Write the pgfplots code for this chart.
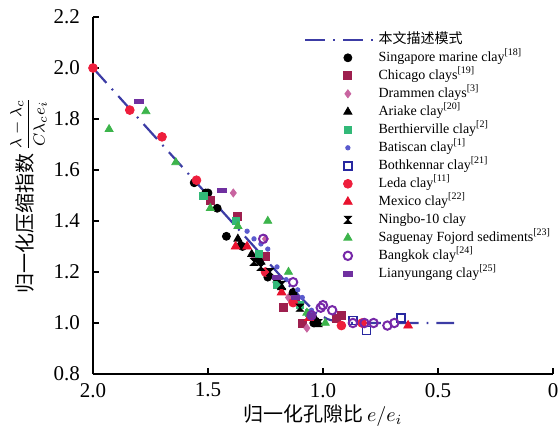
\documentclass[border=0pt]{standalone}
\usepackage{pgfplots}
\pgfplotsset{compat=1.18}
\usepackage{fontspec}
\setmainfont{Liberation Serif}
\newfontfamily\cjk{Noto Sans CJK SC}
\definecolor{modelc}{RGB}{60,60,165}
\definecolor{chic}{RGB}{158,31,78}
\definecolor{dram}{RGB}{200,100,160}
\definecolor{berth}{RGB}{50,185,120}
\definecolor{batis}{RGB}{90,90,205}
\definecolor{both}{RGB}{40,40,160}
\definecolor{leda}{RGB}{238,30,60}
\definecolor{mex}{RGB}{232,17,45}
\definecolor{sag}{RGB}{60,180,75}
\definecolor{bang}{RGB}{118,40,168}
\definecolor{lian}{RGB}{112,48,160}
\pgfdeclareplotmark{bowtie}{%
  \pgfpathmoveto{\pgfqpoint{-\pgfplotmarksize}{\pgfplotmarksize}}%
  \pgfpathlineto{\pgfqpoint{\pgfplotmarksize}{\pgfplotmarksize}}%
  \pgfpathlineto{\pgfqpoint{-\pgfplotmarksize}{-\pgfplotmarksize}}%
  \pgfpathlineto{\pgfqpoint{\pgfplotmarksize}{-\pgfplotmarksize}}%
  \pgfpathclose\pgfusepathqfillstroke}
\pgfdeclareplotmark{hbar}{%
  \pgfpathrectangle{\pgfqpoint{-1.2\pgfplotmarksize}{-0.6\pgfplotmarksize}}{\pgfqpoint{2.4\pgfplotmarksize}{1.2\pgfplotmarksize}}%
  \pgfusepathqfillstroke}
\begin{document}
\begin{tikzpicture}
\begin{axis}[
  scale only axis, width=230pt, height=178.5pt,
  x dir=reverse, xmin=0, xmax=2, ymin=0.8, ymax=2.2,
  axis x line=bottom, axis y line=left,
  axis line style={-, line width=0.8pt},
  every tick/.style={black, line width=0.8pt},
  tick align=inside, major tick length=3pt,
  xtick={0,0.5,1,1.5,2}, xticklabels={0,0.5,1.0,1.5,2.0},
  ytick={0.8,1.0,1.2,1.4,1.6,1.8,2.0,2.2},
  yticklabels={0.8,1.0,1.2,1.4,1.6,1.8,2.0,2.2},
  tick label style={font=\rmfamily\fontsize{10.5}{12}\selectfont},
  yticklabel style={xshift=-3pt},
  xticklabel style={yshift=-1pt},
  /pgf/number format/assume math mode=true,
  xlabel={\cjk 归一化孔隙比\,\rmfamily$e/e_i$},
  ylabel={\cjk 归一化压缩指数\,{\rmfamily\fontsize{8.5}{9}\selectfont$\displaystyle\frac{\lambda-\lambda_c}{C\lambda_c e_i}$}},
  label style={font=\fontsize{10}{12}\selectfont},
  xlabel style={yshift=3pt},
  ylabel style={yshift=-3.5pt},
  clip=false,
  legend cell align=left,
  legend style={draw=none, fill=none, at={(0.445,0.972)}, anchor=north west,
    font=\fontsize{7}{8}\selectfont,
    nodes={inner sep=0.6pt, text height=5.6pt, text depth=1.6pt},
    row sep=0.6pt},
  legend image code/.code={\draw[mark repeat=2,mark phase=2,#1] plot coordinates {(0cm,0cm) (0.75cm,0cm) (1.25cm,0cm)};},
]
\addplot[color=modelc, line width=1.1pt, dash pattern=on 10pt off 4pt on 0.9pt off 4pt, mark=none]
  coordinates {(2.0,2.0) (1.15,1.15) (1.08,1.085) (1.03,1.04) (0.98,1.015) (0.93,1.003) (0.88,1.0) (0.43,1.0)};
\addlegendentry{\cjk 本文描述模式}
% Singapore marine clay
\addplot[only marks, mark=*, mark size=2pt, black] coordinates {
 (1.56,1.55) (1.51,1.51) (1.50,1.51) (1.46,1.45) (1.42,1.34) (1.28,1.25) (1.24,1.18) (1.13,1.12) (1.04,1.00) (1.35,1.30) (1.20,1.16)};
\addlegendentry{Singapore marine clay\textsuperscript{[18]}}
% Chicago clays
\addplot[only marks, mark=square*, mark size=2pt, chic] coordinates {
 (1.49,1.48) (1.37,1.42) (1.17,1.06) (1.09,1.00) (0.94,1.02) (0.92,1.03) (1.25,1.26) (1.12,1.09)};
\addlegendentry{Chicago clays\textsuperscript{[19]}}
% Drammen
\addplot[only marks, mark=diamond*, mark size=2pt, dram] coordinates {
 (1.39,1.51) (1.25,1.33) (1.07,0.98) (1.30,1.26) (1.15,1.10)};
\addlegendentry{Drammen clays\textsuperscript{[3]}}
% Ariake
\addplot[only marks, mark=triangle*, mark size=2.3pt, black] coordinates {
 (1.37,1.33) (1.31,1.27) (1.36,1.31) (1.27,1.24) (1.13,1.12) (1.03,1.01) (1.02,1.00) (1.18,1.14)};
\addlegendentry{Ariake clay\textsuperscript{[20]}}
% Berthierville
\addplot[only marks, mark=square*, mark size=1.8pt, berth] coordinates {
 (1.52,1.50) (1.38,1.40) (1.20,1.15) (1.06,1.04) (1.28,1.27) (1.10,1.07)};
\addlegendentry{Berthierville clay\textsuperscript{[2]}}
% Batiscan
\addplot[only marks, mark=*, mark size=1.1pt, batis] coordinates {
 (1.27,1.31) (1.24,1.29) (1.11,1.13) (1.09,1.10) (1.33,1.36) (1.20,1.22) (1.16,1.17) (1.05,1.05) (1.30,1.33)};
\addlegendentry{Batiscan clay\textsuperscript{[1]}}
% Bothkennar
\addplot[only marks, mark=square, mark size=2pt, both, line width=0.8pt] coordinates {
 (0.87,1.01) (0.81,0.97) (0.66,1.02)};
\addlegendentry{Bothkennar clay\textsuperscript{[21]}}
% Leda
\addplot[only marks, mark=*, mark size=2.2pt, leda] coordinates {
 (2.00,2.00) (1.84,1.835) (1.70,1.73) (1.55,1.56) (1.25,1.20) (1.13,1.08) (0.92,0.99) (0.83,1.00)};
\addlegendentry{Leda clay\textsuperscript{[11]}}
% Mexico
\addplot[only marks, mark=triangle*, mark size=2.5pt, mex] coordinates {
 (1.38,1.30) (1.33,1.30) (0.63,0.99) (1.18,1.12) (1.06,1.02)};
\addlegendentry{Mexico clay\textsuperscript{[22]}}
% Ningbo-10
\addplot[only marks, mark=bowtie, mark size=1.8pt, black] coordinates {
 (1.30,1.24) (1.27,1.22) (1.18,1.15) (1.10,1.06) (1.02,1.00) (1.23,1.20)};
\addlegendentry{Ningbo-10 clay}
% Saguenay
\addplot[only marks, mark=triangle*, mark size=2.3pt, sag] coordinates {
 (1.93,1.76) (1.77,1.83) (1.64,1.63) (1.49,1.45) (1.37,1.38) (1.24,1.40) (1.15,1.20) (1.07,1.04) (0.99,1.00)};
\addlegendentry{Saguenay Fojord sediments\textsuperscript{[23]}}
% Bangkok
\addplot[only marks, mark=o, mark size=2.1pt, bang, line width=1pt] coordinates {
 (1.26,1.33) (1.13,1.16) (1.01,1.06) (0.96,1.05) (1.00,1.07) (0.87,1.00) (0.82,1.00) (0.78,1.00) (0.72,0.99) (0.69,1.00) (1.05,1.03)};
\addlegendentry{Bangkok clay\textsuperscript{[24]}}
% Lianyungang
\addplot[only marks, mark=hbar, mark size=1.8pt, lian] coordinates {
 (1.80,1.87) (1.44,1.52) (1.20,1.18) (1.12,1.10) (1.05,1.03)};
\addlegendentry{Lianyungang clay\textsuperscript{[25]}}
\end{axis}
\pgfresetboundingbox
\path ([xshift=-46.5pt,yshift=-28pt]current axis.south west) rectangle ([xshift=3.5pt,yshift=8.5pt]current axis.north east);
\end{tikzpicture}
\end{document}
